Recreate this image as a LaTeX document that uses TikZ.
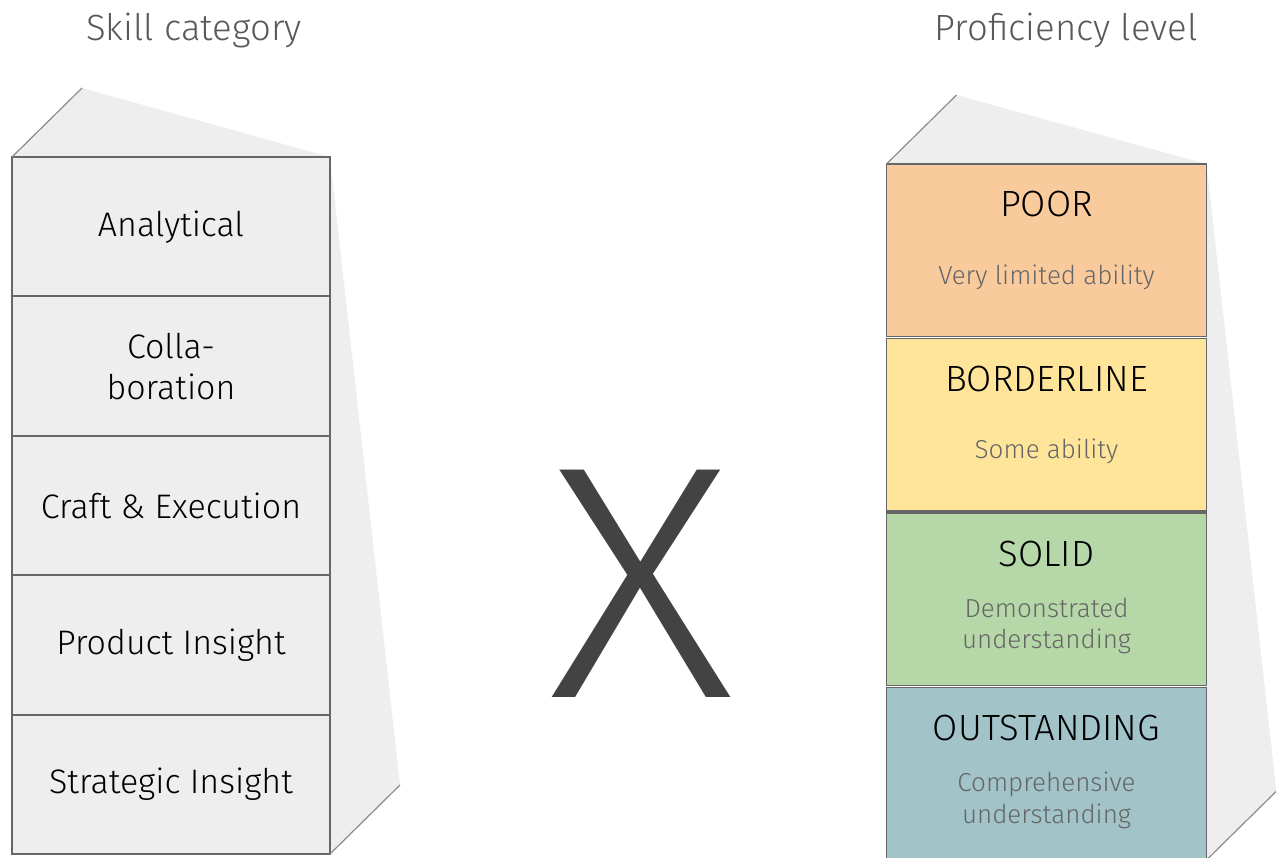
\documentclass[tikz,border=0pt]{standalone}
\usepackage{fontspec}
\setmainfont{Fira Sans}[UprightFont={* Light}]
\usetikzlibrary{positioning}
\usetikzlibrary{backgrounds}

\definecolor{boxGray}{HTML}{EEEEEE}
\definecolor{edgeGray}{HTML}{666666}
\definecolor{faceGray}{HTML}{8C8C8C}
\definecolor{headGray}{HTML}{595959}
\definecolor{subGray}{HTML}{666666}
\definecolor{crossGray}{HTML}{434343}
\definecolor{poorFill}{HTML}{F9CB9C}
\definecolor{borderFill}{HTML}{FFE599}
\definecolor{solidFill}{HTML}{B6D7A8}
\definecolor{outFill}{HTML}{A2C4C9}

\begin{document}
\begin{tikzpicture}
[x=1pt,y=-1pt,
  every node/.style={inner sep=0pt,outer sep=0pt},%
  skillBox/.style={draw=edgeGray,line width=1.8pt,fill=boxGray,
    minimum width=318pt,minimum height=139.4pt,align=center,
    font=\fontsize{34}{41}\selectfont},
  levelBox/.style={draw=edgeGray,line width=1.8pt,
    minimum width=320pt,minimum height=172.5pt},
  levelTitle/.style={anchor=base,font=\fontsize{36.5}{40}\selectfont},
  levelText/.style={text=subGray,align=center,
    font=\fontsize{26}{31.5}\selectfont},
  headText/.style={anchor=base,text=headGray,font=\fontsize{36.5}{40}\selectfont},
  faceLine/.style={draw=faceGray,line width=1.2pt}]
\useasboundingbox (0,0) rectangle (1276,858);
\clip (0,0) rectangle (1276,858);

% headings
\node[headText] (skillHead) at (194,41) {Skill category};
\node[headText] (levelHead) at (1066,41) {Proficiency level};

% skill column
\node[skillBox] (cat1) at (171,226.7) {Analytical};
\node[skillBox,below=0pt of cat1] (cat2) {Colla-\\boration};
\node[skillBox,below=0pt of cat2] (cat3) {Craft \& Execution};
\node[skillBox,below=0pt of cat3] (cat4) {Product Insight};
\node[skillBox,below=0pt of cat4] (cat5) {Strategic Insight};

% level column
\node[levelBox,fill=poorFill,anchor=north] (lvl1) at (1046.5,164) {};
\node[levelBox,fill=borderFill,below=2pt of lvl1] (lvl2) {};
\node[levelBox,fill=solidFill,below=2pt of lvl2] (lvl3) {};
\node[levelBox,fill=outFill,below=2pt of lvl3] (lvl4) {};
\foreach \boxName/\title/\text in {
  lvl1/POOR/{Very limited ability}, lvl2/BORDERLINE/{Some ability},
  lvl3/SOLID/{Demonstrated\\understanding},
  lvl4/OUTSTANDING/{Comprehensive\\understanding}}
{
  \path (\boxName.north) ++(0,53) node[levelTitle] (\boxName Title) {\title};
  \path (\boxName.north) ++(0,113) node[levelText] (\boxName Text) {\text};
}

% times sign
\node[text=crossGray,font=\fontsize{332}{332}\selectfont] (cross) at (641,584)
  {\scalebox{1.09}[1]{X}};

% block sides
\begin{scope}[on background layer]
  \fill[boxGray] (cat1.north west) -- ++(70,-69) -- (cat1.north east) -- cycle;
  \fill[boxGray] (cat1.north east) -- ++(70,628) -- (cat5.south east) -- cycle;
  \fill[boxGray] (lvl1.north west) -- ++(70,-69) -- (lvl1.north east) -- cycle;
  \fill[boxGray] (lvl1.north east) -- ++(70,628) -- (lvl4.south east) -- cycle;
\end{scope}
\path[faceLine] (cat1.north west) -- ++(70,-69);
\path[faceLine] (cat5.south east) -- ++(70,-69);
\path[faceLine] (lvl1.north west) -- ++(70,-69);
\path[faceLine] (lvl4.south east) -- ++(70,-69);
\end{tikzpicture}
\end{document}
